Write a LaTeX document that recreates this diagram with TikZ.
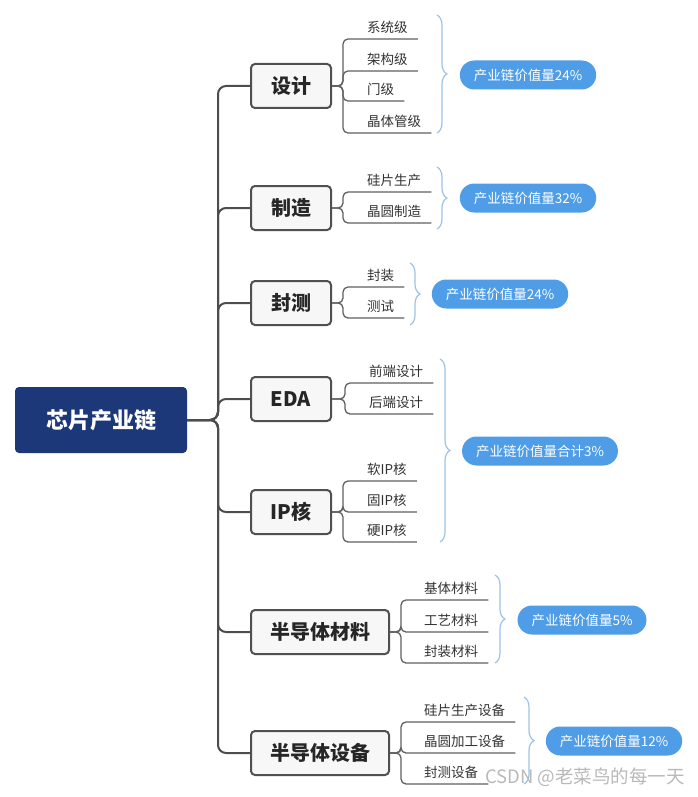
\documentclass[tikz,border=0pt]{standalone}
\usepackage{fontspec}
\setmainfont{Noto Sans CJK SC}
\usetikzlibrary{decorations.pathreplacing}

\definecolor{rootblue}{RGB}{28,56,120}
\definecolor{boxfill}{RGB}{247,247,247}
\definecolor{boxline}{RGB}{80,80,80}
\definecolor{linkgray}{RGB}{77,77,77}
\definecolor{ulinegray}{RGB}{96,96,96}
\definecolor{leafgray}{RGB}{51,51,51}
\definecolor{braceblue}{RGB}{156,195,230}
\definecolor{pillblue}{RGB}{78,157,230}

\tikzset{
  rootbox/.style={fill=rootblue, text=white, rounded corners=4pt, minimum width=172pt, minimum height=66pt,
    font=\fontsize{22}{22}\selectfont\bfseries},
  topic/.style={draw=boxline, fill=boxfill, line width=2pt, rounded corners=4pt, minimum width=80pt,
    minimum height=44pt, inner xsep=19pt, font=\fontsize{20}{20}\selectfont\bfseries, text=black!85},
  leaf/.style={anchor=south west, inner xsep=10pt, inner ysep=5pt, text=leafgray,
    font=\fontsize{13.5}{14}\selectfont},
  link/.style={draw=linkgray, line width=2pt, rounded corners=8pt},
  uline/.style={draw=ulinegray, line width=1.3pt, rounded corners=5pt},
  valbrace/.style={decorate, decoration={brace, amplitude=10pt}, draw=braceblue, line width=1.2pt},
  pill/.style={fill=pillblue, text=white, rounded corners=14.5pt, minimum height=29pt, inner xsep=14pt,
    font=\fontsize{13.5}{14}\selectfont}
}

\begin{document}
\begin{tikzpicture}[x=1pt, y=-1pt]
  \useasboundingbox (0,0) rectangle (698,797);

  % Root and first level
  \node[rootbox] (root) at (101,420) {芯片产业链};
  \foreach \n/\t/\y in {design/设计/86, make/制造/208, test/封测/303, eda/EDA/399,
                        ip/IP核/512, mat/半导体材料/632, equip/半导体设备/753}{
    \node[topic, anchor=west] (\n) at (250,\y) {\t};
  }
  \coordinate (ms) at (218,420);
  \foreach \n in {design,make,test,eda,ip,mat,equip}{
    \draw[link] (root.east) -- (ms) -- (\n.west -| ms) -- (\n.west);
  }

  % Design: spine x=343
  \coordinate (s1) at (343,0);
  \foreach \n/\t/\y in {d1/系统级/39, d2/架构级/71, d3/门级/101, d4/晶体管级/133}{
    \node[leaf] (\n) at (357,\y) {\t};
    \draw[uline] (design.east) -- (design.east -| s1) -- (\n.south -| s1) -- (\n.south east);
  }
  % Manufacturing
  \coordinate (s2) at (343,0);
  \foreach \n/\t/\y in {m1/硅片生产/192, m2/晶圆制造/223}{
    \node[leaf] (\n) at (357,\y) {\t};
    \draw[uline] (make.east) -- (make.east -| s2) -- (\n.south -| s2) -- (\n.south east);
  }
  % Packaging and test
  \coordinate (s3) at (343,0);
  \foreach \n/\t/\y in {t1/封装/287, t2/测试/318}{
    \node[leaf] (\n) at (357,\y) {\t};
    \draw[uline] (test.east) -- (test.east -| s3) -- (\n.south -| s3) -- (\n.south east);
  }
  % EDA
  \coordinate (s4) at (345,0);
  \foreach \n/\t/\y in {e1/前端设计/383, e2/后端设计/414}{
    \node[leaf] (\n) at (359,\y) {\t};
    \draw[uline] (eda.east) -- (eda.east -| s4) -- (\n.south -| s4) -- (\n.south east);
  }
  % IP cores
  \coordinate (s5) at (343,0);
  \foreach \n/\t/\y in {i1/软IP核/481, i2/固IP核/512, i3/硬IP核/542}{
    \node[leaf] (\n) at (357,\y) {\t};
    \draw[uline] (ip.east) -- (ip.east -| s5) -- (\n.south -| s5) -- (\n.south east);
  }
  % Materials: spine x=401
  \coordinate (s6) at (401,0);
  \foreach \n/\t/\y in {r1/基体材料/600, r2/工艺材料/632, r3/封装材料/663}{
    \node[leaf] (\n) at (414,\y) {\t};
    \draw[uline] (mat.east) -- (mat.east -| s6) -- (\n.south -| s6) -- (\n.south east);
  }
  % Equipment
  \coordinate (s7) at (401,0);
  \foreach \n/\t/\y in {q1/硅片生产设备/722, q2/晶圆加工设备/753, q3/封测设备/784}{
    \node[leaf] (\n) at (414,\y) {\t};
    \draw[uline] (equip.east) -- (equip.east -| s7) -- (\n.south -| s7) -- (\n.south east);
  }

  % Braces
  \draw[valbrace] (437,15) -- (437,133);
  \draw[valbrace] (437,167) -- (437,229);
  \draw[valbrace] (410,263) -- (410,325);
  \draw[valbrace] (440,359) -- (440,542);
  \draw[valbrace] (495,575) -- (495,663);
  \draw[valbrace] (524,697) -- (524,784);

  % Value shares
  \node[pill] (v1) at (528,75)  {产业链价值量24\%};
  \node[pill] (v2) at (528,198) {产业链价值量32\%};
  \node[pill] (v3) at (500,294) {产业链价值量24\%};
  \node[pill] (v4) at (540,451) {产业链价值量合计3\%};
  \node[pill] (v5) at (582,620) {产业链价值量5\%};
  \node[pill] (v6) at (614,741) {产业链价值量12\%};

  % Watermark
  \node[text=gray!55, font=\fontsize{18.5}{19}\selectfont, inner sep=0pt] (mark) at (585,777) {CSDN @老菜鸟的每一天};
\end{tikzpicture}
\end{document}
